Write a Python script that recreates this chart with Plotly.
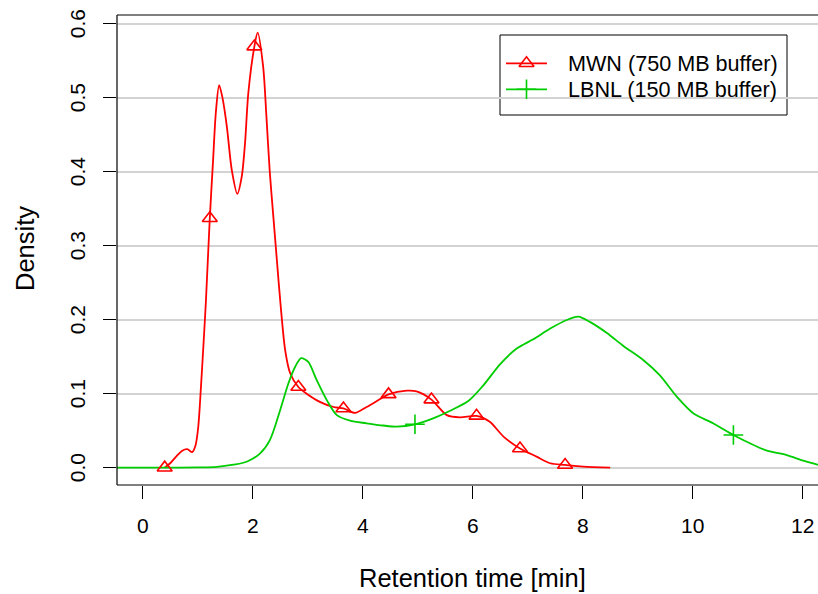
import plotly.graph_objects as go

# Kernel density of retention time, MWN trace (750 MB buffer)
mwn_time = [0.40, 0.50, 0.62, 0.72, 0.81, 0.90, 0.96, 1.01, 1.06, 1.10, 1.15, 1.22,
            1.28, 1.33, 1.39, 1.45, 1.53, 1.62, 1.72, 1.80, 1.86, 1.92, 2.03, 2.09,
            2.19, 2.25, 2.31, 2.37, 2.44, 2.50, 2.59, 2.68, 2.83, 2.98, 3.22, 3.47,
            3.65, 3.86, 4.07, 4.28, 4.47, 4.80, 4.98, 5.25, 5.53, 5.77, 6.07, 6.31,
            6.56, 6.86, 7.16, 7.41, 7.68, 8.01, 8.50]
mwn_density = [0.000, 0.006, 0.016, 0.023, 0.025, 0.021, 0.030, 0.055, 0.110, 0.160, 0.226, 0.337,
               0.416, 0.480, 0.517, 0.500, 0.461, 0.402, 0.370, 0.393, 0.438, 0.506, 0.569, 0.588,
               0.542, 0.474, 0.400, 0.344, 0.280, 0.226, 0.159, 0.128, 0.109, 0.100, 0.089, 0.082,
               0.080, 0.074, 0.082, 0.091, 0.099, 0.104, 0.103, 0.092, 0.071, 0.068, 0.070, 0.062,
               0.042, 0.026, 0.015, 0.006, 0.0037, 0.0014, 0.000]
# every ~0.81 min a point symbol is placed on the curve
mwn_mark_time = [0.40, 1.22, 2.03, 2.83, 3.65, 4.47, 5.25, 6.07, 6.86, 7.68]
mwn_mark_density = [0.000, 0.337, 0.569, 0.109, 0.080, 0.099, 0.092, 0.070, 0.026, 0.0037]

# Kernel density of retention time, LBNL trace (150 MB buffer)
lbnl_time = [-0.85, 0.50, 1.00, 1.35, 1.65, 1.89, 2.13, 2.31, 2.50, 2.65, 2.77, 2.88,
             3.01, 3.16, 3.35, 3.53, 3.77, 4.07, 4.37, 4.62, 4.95, 5.28, 5.59, 5.92,
             6.19, 6.50, 6.80, 7.10, 7.41, 7.71, 7.92, 8.13, 8.44, 8.74, 9.10, 9.40,
             9.71, 10.01, 10.37, 10.74, 11.04, 11.35, 11.71, 12.01, 12.25, 12.60]
lbnl_density = [0.000, 0.000, 0.0003, 0.001, 0.004, 0.008, 0.019, 0.037, 0.078, 0.114, 0.136, 0.148,
                0.143, 0.119, 0.091, 0.071, 0.0635, 0.060, 0.057, 0.0555, 0.0586, 0.0667, 0.077, 0.090,
                0.111, 0.140, 0.161, 0.1735, 0.188, 0.1996, 0.204, 0.197, 0.182, 0.1645, 0.1455, 0.125,
                0.096, 0.0735, 0.060, 0.0442, 0.033, 0.023, 0.017, 0.0095, 0.0046, 0.001]
lbnl_mark_time = [4.95, 10.74]
lbnl_mark_density = [0.0586, 0.0442]

x_ticks = [0, 2, 4, 6, 8, 10, 12]
x_tick_labels = ["0", "2", "4", "6", "8", "10", "12"]
y_ticks = [0.0, 0.1, 0.2, 0.3, 0.4, 0.5, 0.6]
y_tick_labels = ["0.0", "0.1", "0.2", "0.3", "0.4", "0.5", "0.6"]

series_names = ["MWN (750 MB buffer)", "LBNL (150 MB buffer)"]

RED = "#ff0000"
GREEN = "#00cd00"
FONT = "Liberation Sans, Arial, Helvetica, sans-serif"
TRI_SIZE = 13
PLUS_SIZE = 14

W, H = 818, 594
L, R, T, B = 117, 0, 15, 109
PW, PH = W - L - R, H - T - B


def px_x(p):
    return (p - L) / PW


def px_y(p):
    return (H - B - p) / PH


fig = go.Figure()

fig.add_trace(go.Scatter(x=mwn_time, y=mwn_density, mode="lines",
                         line=dict(color=RED, width=1.8, shape="spline", smoothing=0.8),
                         hoverinfo="skip", showlegend=False))
fig.add_trace(go.Scatter(x=lbnl_time, y=lbnl_density, mode="lines",
                         line=dict(color=GREEN, width=1.8, shape="spline", smoothing=0.8),
                         hoverinfo="skip", showlegend=False))
fig.add_trace(go.Scatter(x=mwn_mark_time, y=mwn_mark_density, mode="markers",
                         marker=dict(symbol="triangle-up-open", size=TRI_SIZE, color=RED,
                                     line=dict(color=RED, width=1.6)),
                         cliponaxis=False, hoverinfo="skip", showlegend=False))
fig.add_trace(go.Scatter(x=lbnl_mark_time, y=lbnl_mark_density, mode="markers",
                         marker=dict(symbol="cross-thin", size=PLUS_SIZE, color=GREEN,
                                     line=dict(color=GREEN, width=1.6)),
                         hoverinfo="skip", showlegend=False))

# legend samples, drawn on an overlay axis pair spanning the plot area
leg_rows = [px_y(63.3), px_y(89.3)]
leg_x0, leg_x1, leg_xm = px_x(506), px_x(547), px_x(526.5)
for row, color, sym, size in [(leg_rows[0], RED, "triangle-up-open", TRI_SIZE),
                              (leg_rows[1], GREEN, "cross-thin", PLUS_SIZE)]:
    fig.add_trace(go.Scatter(x=[leg_x0, leg_x1], y=[row, row], mode="lines",
                             line=dict(color=color, width=1.8), xaxis="x2", yaxis="y2",
                             hoverinfo="skip", showlegend=False))
    fig.add_trace(go.Scatter(x=[leg_xm], y=[row], mode="markers",
                             marker=dict(symbol=sym, size=size, color=color,
                                         line=dict(color=color, width=1.6)),
                             xaxis="x2", yaxis="y2", hoverinfo="skip", showlegend=False))

shapes = [
    # legend frame
    dict(type="rect", xref="paper", yref="paper", x0=px_x(500), x1=px_x(787),
         y0=px_y(115), y1=px_y(35), fillcolor="white", line=dict(color="black", width=1),
         layer="between"),
    # plot frame (left, bottom, top)
    dict(type="line", xref="paper", yref="paper", x0=0, x1=0, y0=0, y1=1,
         line=dict(color="black", width=1.2), layer="above"),
    dict(type="line", xref="paper", yref="paper", x0=0, x1=1, y0=0, y1=0,
         line=dict(color="black", width=1.2), layer="above"),
    dict(type="line", xref="paper", yref="paper", x0=0, x1=1, y0=1, y1=1,
         line=dict(color="black", width=1.2), layer="above"),
]

annotations = []
for name, row in zip(series_names, leg_rows):
    annotations.append(dict(text=name, xref="paper", yref="paper", x=px_x(566), y=row,
                            xanchor="left", yanchor="middle", showarrow=False,
                            font=dict(family=FONT, size=21.6, color="black")))
for v, t in zip(x_ticks, x_tick_labels):
    annotations.append(dict(text=t, xref="x", yref="paper", x=v, y=px_y(525.5),
                            xanchor="center", yanchor="middle", showarrow=False,
                            font=dict(family=FONT, size=21, color="black")))
for v, t in zip(y_ticks, y_tick_labels):
    annotations.append(dict(text=t, xref="paper", yref="y", x=px_x(77.5), y=v,
                            xanchor="center", yanchor="middle", showarrow=False, textangle=-90,
                            font=dict(family=FONT, size=21, color="black")))
annotations.append(dict(text="Retention time [min]", xref="paper", yref="paper",
                        x=px_x(472), y=px_y(578), xanchor="center", yanchor="middle",
                        showarrow=False, font=dict(family=FONT, size=25.5, color="black")))
annotations.append(dict(text="Density", xref="paper", yref="paper",
                        x=px_x(25), y=px_y(249), xanchor="center", yanchor="middle",
                        showarrow=False, textangle=-90,
                        font=dict(family=FONT, size=25.5, color="black")))

fig.update_layout(
    width=W, height=H,
    margin=dict(l=L, r=R, t=T, b=B, pad=0),
    paper_bgcolor="white", plot_bgcolor="white",
    font=dict(family=FONT, color="black"),
    showlegend=False,
    xaxis=dict(range=[(L - 142.7) / 55.0, (W - 142.7) / 55.0], tickvals=x_ticks,
               showticklabels=False, ticks="outside", ticklen=13, tickwidth=1,
               tickcolor="black", showgrid=False, zeroline=False, showline=False,
               fixedrange=True),
    yaxis=dict(range=[-0.0234, 0.6117], tickvals=y_ticks, showticklabels=False,
               ticks="outside", ticklen=13, tickwidth=1, tickcolor="black",
               showgrid=True, gridcolor="#d3d3d3", gridwidth=1.5, zeroline=False,
               showline=False, fixedrange=True),
    xaxis2=dict(overlaying="x", range=[0, 1], visible=False, fixedrange=True),
    yaxis2=dict(overlaying="y", range=[0, 1], visible=False, fixedrange=True),
    shapes=shapes,
    annotations=annotations,
)

fig.write_html("out.html")
